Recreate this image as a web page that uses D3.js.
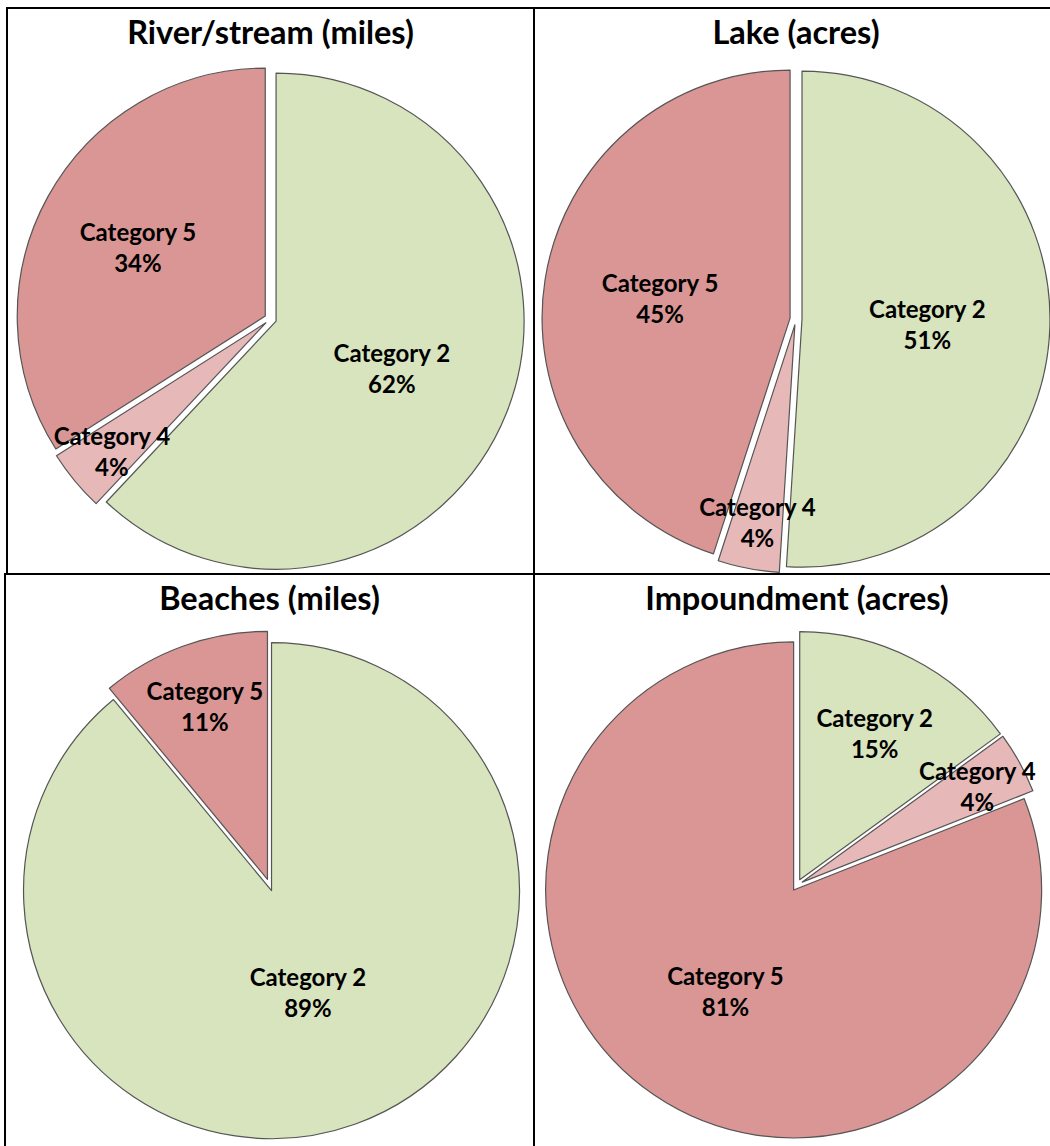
<!DOCTYPE html>
<html>
<head>
<meta charset="utf-8">
<script src="https://cdn.jsdelivr.net/npm/d3@7"></script>
<style>
  body { margin: 0; background: #fff; }
  .title { font-family: Lato, "Open Sans", sans-serif; font-weight: bold; font-size: 32.5px; }
  .label { font-family: Lato, "Open Sans", sans-serif; font-weight: bold; font-size: 24px; }
</style>
</head>
<body>
<div id="chart"></div>
<script>
const categories = ["Category 2", "Category 4", "Category 5"];
const titles = ["River/stream (miles)", "Lake (acres)", "Beaches (miles)", "Impoundment (acres)"];
const riverValues = [62, 4, 34];
const lakeValues = [51, 4, 45];
const beachValues = [89, 0, 11];
const impoundmentValues = [15, 4, 81];

const colors = d3.scaleOrdinal()
  .domain(categories)
  .range(["#D7E4BD", "#E6B9B8", "#D99694"]);

const width = 1050, height = 1146;
const radius = 248;
const explode = 6;

// table cells -- the grid is cut off on the right and bottom
const cells = [
  { x0: 7, y0: 7, x1: 534 },
  { x0: 534, y0: 7, x1: 1058 },
  { x0: 5, y0: 573, x1: 534 },
  { x0: 534, y0: 573, x1: 1060 }
];

const svg = d3.select("#chart")
  .append("svg")
  .attr("width", width)
  .attr("height", height);

const pie = d3.pie().sort(null).value(d => d.value);
const arc = d3.arc().innerRadius(0).outerRadius(radius);

// "best fit" label distance from the centre, as a share of the radius:
// thin slices push their label out towards the rim
const labelRadius = d3.scaleLinear()
  .domain([0.04, 0.11, 0.15, 0.34, 0.5, 0.8, 0.9])
  .range([0.83, 0.77, 0.69, 0.61, 0.53, 0.52, 0.45])
  .clamp(true);

const allValues = [riverValues, lakeValues, beachValues, impoundmentValues];

allValues.forEach((values, i) => {
  const cell = cells[i];
  const cx = (cell.x0 + cell.x1) / 2;
  const cy = cell.y0 + 312;
  const g = svg.append("g");

  g.append("text")
    .attr("class", "title")
    .attr("x", cx)
    .attr("y", cell.y0 + 37)
    .attr("text-anchor", "middle")
    .text(titles[i]);

  const data = categories.map((c, j) => ({ category: c, value: values[j] }))
    .filter(d => d.value > 0);
  const total = d3.sum(data, d => d.value);
  const arcs = pie(data);
  const mid = d => (d.startAngle + d.endAngle) / 2;

  g.selectAll(".slice")
    .data(arcs)
    .enter()
    .append("path")
    .attr("class", "slice")
    .attr("transform", d => `translate(${cx + Math.sin(mid(d)) * explode},${cy - Math.cos(mid(d)) * explode})`)
    .attr("d", arc)
    .attr("fill", d => colors(d.data.category))
    .attr("stroke", "#555")
    .attr("stroke-width", 1.2)
    .attr("stroke-linejoin", "round");

  // labels go on top of every slice
  const labels = g.selectAll(".label")
    .data(arcs)
    .enter()
    .append("text")
    .attr("class", "label")
    .attr("text-anchor", "middle")
    .attr("transform", d => {
      const r = radius * labelRadius(d.value / total);
      return `translate(${cx + Math.sin(mid(d)) * r},${cy - Math.cos(mid(d)) * r})`;
    });

  labels.append("tspan")
    .attr("x", 0)
    .attr("y", -15)
    .attr("dominant-baseline", "central")
    .text(d => d.data.category);

  labels.append("tspan")
    .attr("x", 0)
    .attr("y", 16)
    .attr("dominant-baseline", "central")
    .text(d => d3.format(".0%")(d.value / total));
});

// table borders
const borders = svg.append("g")
  .attr("stroke", "#000")
  .attr("stroke-width", 2)
  .attr("fill", "none");

borders.append("line").attr("x1", 6).attr("x2", width).attr("y1", 8).attr("y2", 8);
borders.append("line").attr("x1", 4).attr("x2", width).attr("y1", 574).attr("y2", 574);
borders.append("line").attr("x1", 7).attr("x2", 7).attr("y1", 7).attr("y2", 574);
borders.append("line").attr("x1", 5).attr("x2", 5).attr("y1", 574).attr("y2", height);
borders.append("line").attr("x1", 534).attr("x2", 534).attr("y1", 7).attr("y2", height);
</script>
</body>
</html>
